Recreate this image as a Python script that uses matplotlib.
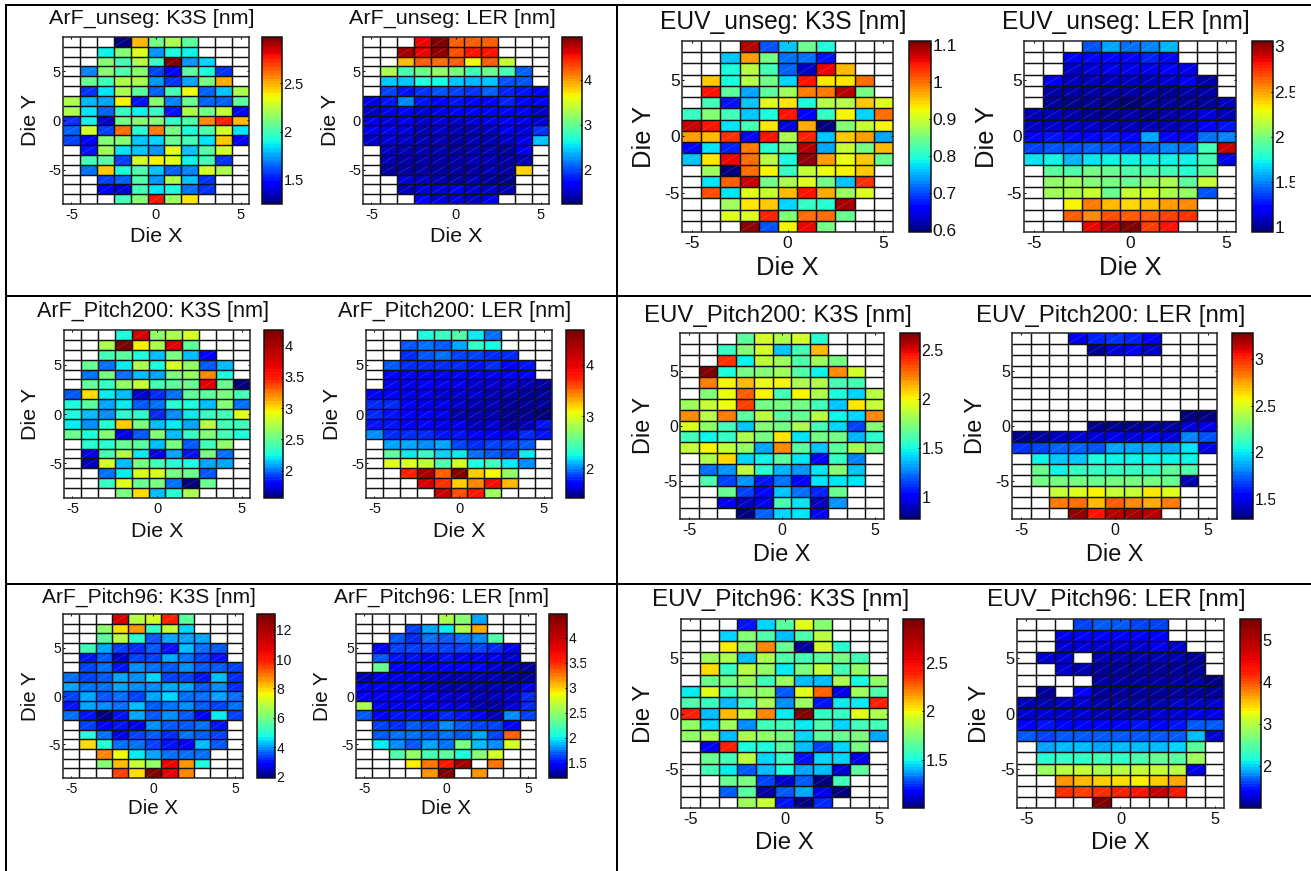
import numpy as np
import matplotlib
matplotlib.use('Agg')
import matplotlib.pyplot as plt
from matplotlib.collections import LineCollection
from matplotlib.colors import ListedColormap
from matplotlib.lines import Line2D
from matplotlib.transforms import Bbox

plt.rcParams['font.family'] = ['Liberation Sans', 'DejaVu Sans']

n = np.nan
die_x = [-5, -4, -3, -2, -1, 0, 1, 2, 3, 4, 5]
die_y = [8, 7, 6, 5, 4, 3, 2, 1, 0, -1, -2, -3, -4, -5, -6, -7, -8]

arf_unseg_k3s = [
 [n,n,n,1.25,2.47,2.1,2.2,2.05,n,n,n],
 [n,n,1.88,2.12,2.33,1.72,1.9,1.88,n,n,n],
 [n,n,2.12,2.0,2.25,1.97,2.98,1.72,1.82,n,n],
 [n,1.7,2.12,2.03,2.13,1.6,1.45,2.05,1.9,1.55,n],
 [n,2.07,2.0,2.22,2.2,1.72,1.55,1.75,2.1,2.5,n],
 [n,1.55,1.87,2.2,2.05,1.65,1.98,2.35,1.65,1.8,2.2],
 [2.22,1.78,1.75,2.37,1.5,2.12,1.7,2.07,1.65,1.65,2.05],
 [2.2,1.85,1.65,1.97,1.88,1.97,1.52,2.22,2.1,2.27,1.45],
 [1.55,1.88,1.38,2.1,2.13,2.13,1.97,2.03,2.55,2.75,2.47],
 [1.65,2.3,1.6,2.62,1.95,2.6,2.1,1.92,2.03,2.28,1.85],
 [1.6,1.45,2.12,2.12,1.8,1.82,2.07,2.0,1.85,2.45,1.45],
 [n,1.5,2.18,1.85,1.8,1.72,2.33,1.8,2.03,2.3,n],
 [n,1.98,2.05,1.58,2.3,2.37,2.33,1.88,1.98,1.55,n],
 [n,1.68,2.45,1.9,2.03,1.8,1.65,1.7,2.28,2.2,n],
 [n,n,1.58,1.63,2.02,1.72,2.22,1.8,1.55,n,n],
 [n,n,1.45,1.4,1.98,1.85,1.92,1.68,1.55,n,n],
 [n,n,n,1.98,2.12,2.78,2.17,2.4,n,n,n]]

arf_unseg_ler = [
 [n,n,n,4.55,4.95,4.25,4.2,4.25,n,n,n],
 [n,n,4.8,4.6,4.85,4.3,4.5,4.5,n,n,n],
 [n,n,3.9,4.2,4.15,4.2,3.65,4.2,3.4,n,n],
 [n,3.3,2.8,3.0,3.2,3.05,2.75,3.0,2.8,2.1,n],
 [n,2.45,2.4,2.7,2.65,2.4,2.35,2.4,2.0,2.0,n],
 [n,1.95,1.8,1.9,2.0,1.95,1.9,2.05,1.85,1.8,1.65],
 [1.6,1.8,2.2,1.8,1.75,1.8,1.75,1.7,1.85,1.75,1.65],
 [1.5,1.6,1.7,1.55,1.6,1.65,1.65,1.65,1.75,1.65,1.5],
 [1.6,1.55,1.6,1.5,1.55,1.5,1.55,1.6,1.65,1.6,1.55],
 [1.6,1.6,1.55,1.45,1.5,1.45,1.45,1.5,1.6,1.55,1.9],
 [1.5,1.55,1.5,1.45,1.45,1.4,1.45,1.45,1.5,1.6,2.45],
 [n,1.5,1.45,1.45,1.45,1.4,1.45,1.45,1.4,1.6,n],
 [n,1.45,1.4,1.4,1.4,1.4,1.45,1.45,1.4,1.45,n],
 [n,1.4,1.35,1.35,1.4,1.4,1.4,1.45,1.35,3.75,n],
 [n,n,1.55,1.5,1.45,1.4,1.45,1.4,1.33,n,n],
 [n,n,1.45,1.55,1.55,1.6,1.5,1.5,1.45,n,n],
 [n,n,n,1.75,1.55,1.55,1.5,1.6,n,n,n]]

euv_unseg_k3s = [
 [n,n,n,1.08,.70,.76,.84,.79,n,n,n],
 [n,n,.76,.98,.85,.72,.72,.67,n,n,n],
 [n,n,.79,.89,.82,.71,.63,1.06,.96,n,n],
 [n,.95,.79,.89,.85,.77,1.05,.94,.94,1.0,n],
 [n,1.05,.83,.74,.83,.87,.99,.99,1.08,.85,n],
 [n,.82,.67,.76,.91,.94,.79,.89,.89,.95,.91],
 [.81,.86,.82,.76,.79,1.05,.66,.81,.93,.77,1.0],
 [1.07,1.05,.78,.82,.94,.64,.97,.60,.86,.90,.93],
 [.98,.96,1.03,.66,1.05,.88,1.04,.76,.95,.98,.74],
 [.66,.78,.68,.99,.80,.85,1.08,.74,.90,.85,.96],
 [.76,.94,1.06,1.0,.89,.79,1.1,.98,.92,.95,.84],
 [n,.87,.60,1.0,.93,.81,.90,.92,.93,.95,n],
 [n,.78,1.01,1.07,.85,.88,.91,.85,.76,1.03,n],
 [n,1.02,.78,.91,.90,.96,1.05,.97,.87,.91,n],
 [n,n,.87,.94,.95,.77,.81,.80,1.09,n,n],
 [n,n,.91,.91,1.04,.86,1.0,1.0,.84,n,n],
 [n,n,n,1.1,.70,.93,1.06,.85,n,n,n]]

euv_unseg_ler = [
 [n,n,n,1.4,1.55,1.45,1.5,1.6,n,n,n],
 [n,n,1.2,1.22,1.22,1.22,1.3,1.24,n,n,n],
 [n,n,1.1,1.13,1.15,1.16,1.15,1.19,1.15,n,n],
 [n,1.15,1.08,1.08,1.07,1.05,1.07,1.1,1.15,1.03,n],
 [n,1.03,1.03,1.03,1.03,1.03,1.03,1.0,1.03,1.03,n],
 [n,1.03,1.0,1.03,1.0,.98,1.03,1.03,1.03,1.03,1.06],
 [1.05,1.05,1.03,1.0,1.0,1.03,1.0,1.03,1.06,1.13,1.08],
 [1.1,1.1,1.1,1.09,1.08,1.08,1.08,1.08,1.1,1.19,1.27],
 [1.22,1.27,1.22,1.22,1.27,1.22,1.55,1.22,1.22,1.45,1.5],
 [1.37,1.4,1.4,1.42,1.4,1.34,1.44,1.5,1.45,1.85,2.9],
 [1.68,1.72,1.6,1.7,1.72,1.72,1.74,1.72,1.72,1.85,1.17],
 [n,1.93,1.9,1.98,1.95,1.9,1.88,1.85,1.8,1.92,n],
 [n,2.07,2.1,2.02,2.0,1.95,2.07,2.12,1.92,2.2,n],
 [n,2.1,2.13,2.2,1.95,2.18,2.22,2.12,2.05,1.38,n],
 [n,n,2.33,2.58,2.45,2.38,2.42,2.5,2.55,n,n],
 [n,n,2.65,2.55,2.68,2.66,2.65,2.72,2.75,n,n],
 [n,n,n,2.85,2.95,3.06,2.7,2.8,n,n,n]]

arf_p200_k3s = [
 [n,n,n,2.25,3.75,2.65,2.7,2.85,n,n,n],
 [n,n,2.7,4.24,2.95,2.7,3.7,2.45,n,n,n],
 [n,n,2.4,2.45,2.25,2.15,2.55,2.12,1.8,n,n],
 [n,2.5,2.0,2.2,2.7,2.25,2.85,2.65,1.95,2.15,n],
 [n,2.0,2.55,2.0,2.12,2.1,2.55,2.65,3.2,2.25,n],
 [n,2.5,2.35,2.65,2.8,2.4,2.45,2.5,3.7,2.5,1.58],
 [1.98,3.0,2.2,2.12,1.7,1.9,2.0,2.45,2.45,2.55,2.38],
 [2.25,2.45,2.08,2.2,1.95,2.0,2.3,2.25,2.15,2.6,2.0],
 [2.25,2.12,2.05,2.3,2.3,1.9,2.05,2.2,2.35,2.4,2.9],
 [2.2,2.05,2.3,3.05,2.55,2.15,2.2,2.1,2.75,2.4,2.38],
 [2.5,2.27,2.6,1.75,1.95,2.6,2.15,2.35,2.6,2.4,2.25],
 [n,2.3,2.3,2.5,2.45,2.12,2.55,1.95,2.4,2.65,n],
 [n,1.75,2.4,2.7,2.2,1.75,2.1,1.85,2.55,2.0,n],
 [n,1.68,2.85,2.15,2.55,2.4,2.3,2.25,2.1,2.1,n],
 [n,n,2.0,2.2,2.85,2.85,2.55,2.5,1.95,n,n],
 [n,n,2.35,2.9,2.5,2.55,2.0,1.6,2.5,n,n],
 [n,n,n,2.55,3.0,2.15,2.3,2.7,n,n,n]]

arf_p200_ler = [
 [n,n,n,2.25,2.38,2.45,2.2,1.95,n,n,n],
 [n,n,1.9,1.95,1.9,2.05,2.35,2.25,n,n,n],
 [n,n,1.82,1.9,1.95,1.85,1.87,1.82,1.82,n,n],
 [n,1.88,1.79,1.79,1.79,1.79,1.77,1.79,1.7,1.74,n],
 [n,1.7,1.68,1.68,1.68,1.7,1.7,1.68,1.68,1.7,n],
 [n,1.7,1.66,1.68,1.66,1.66,1.62,1.62,1.62,1.54,1.5],
 [1.68,1.7,1.66,1.64,1.62,1.6,1.58,1.57,1.54,1.52,1.5],
 [1.78,1.78,1.7,1.66,1.63,1.58,1.55,1.54,1.52,1.5,1.48],
 [1.8,1.76,1.7,1.68,1.63,1.55,1.55,1.54,1.52,1.5,1.47],
 [1.76,1.76,1.68,1.68,1.66,1.66,1.56,1.6,1.52,1.56,1.76],
 [2.0,1.8,1.8,1.78,1.73,1.73,1.68,1.68,1.66,1.78,1.75],
 [n,2.05,2.08,1.98,2.03,1.85,1.82,1.85,1.85,1.9,n],
 [n,2.5,2.2,2.35,2.15,2.2,1.95,1.9,1.85,2.2,n],
 [n,3.0,3.0,2.9,2.45,2.95,2.25,2.4,2.2,1.98,n],
 [n,n,3.75,4.4,3.55,4.67,3.2,3.05,2.7,n,n],
 [n,n,n,4.1,3.7,3.2,3.45,3.9,3.25,n,n],
 [n,n,n,n,4.2,3.6,3.8,2.75,n,n,n]]

euv_p200_k3s = [
 [n,n,n,1.65,1.92,1.83,1.93,1.52,n,n,n],
 [n,n,1.55,1.75,1.92,1.38,1.6,2.12,n,n,n],
 [n,n,2.4,1.48,1.85,1.8,1.62,1.8,1.72,n,n],
 [n,2.67,1.5,1.72,1.73,1.8,1.62,1.47,2.2,1.93,n],
 [n,2.25,2.02,2.12,1.97,2.0,1.82,1.82,1.6,1.58,n],
 [n,1.75,1.97,2.3,2.0,1.58,2.0,1.82,1.5,1.42,1.85],
 [1.8,1.88,1.97,2.35,1.72,1.72,1.72,1.6,1.4,2.03,1.9],
 [2.2,1.85,2.25,1.65,1.85,1.65,1.68,1.85,1.48,1.42,2.2],
 [1.95,1.78,1.58,1.38,1.75,1.7,1.82,1.6,1.42,1.15,1.75],
 [1.58,1.47,1.55,1.82,1.7,2.03,1.45,1.7,1.72,1.35,1.52],
 [1.9,2.02,1.9,1.78,1.32,2.2,1.65,1.4,1.65,1.83,1.72],
 [n,1.82,2.05,1.42,1.48,1.65,1.43,1.02,1.55,1.27,n],
 [n,1.25,1.3,1.85,1.52,1.35,1.3,1.45,1.75,1.38,n],
 [n,1.62,1.15,1.3,1.05,1.25,1.0,1.45,1.45,1.45,n],
 [n,n,1.68,1.15,1.02,1.38,1.25,1.1,1.68,n,n],
 [n,n,.98,.92,.98,1.6,1.45,.9,1.3,n,n],
 [n,n,n,.78,1.22,1.42,1.45,1.0,n,n,n]]

euv_p200_ler = [
 [n,n,n,1.48,1.62,1.65,1.6,1.5,n,n,n],
 [n,n,n,n,1.32,1.45,1.5,1.42,n,n,n],
 [n,n,n,n,n,n,n,n,n,n,n],
 [n,n,n,n,n,n,n,n,n,n,n],
 [n,n,n,n,n,n,n,n,n,n,n],
 [n,n,n,n,n,n,n,n,n,n,n],
 [n,n,n,n,n,n,n,n,n,n,n],
 [n,n,n,n,n,n,n,n,n,1.3,1.3],
 [n,n,n,n,1.32,1.33,1.32,1.35,1.35,1.45,1.48],
 [1.33,1.35,1.42,1.44,1.44,1.47,1.45,1.5,1.45,1.8,1.7],
 [1.65,1.68,1.72,1.72,1.7,1.85,1.85,1.85,1.85,1.98,1.48],
 [n,2.0,1.93,1.93,2.05,2.03,2.0,2.0,2.03,2.03,n],
 [n,2.22,2.03,2.1,2.1,2.1,2.1,2.1,2.2,2.18,n],
 [n,2.25,2.25,2.25,2.22,2.28,2.25,2.28,2.22,1.4,n],
 [n,n,2.45,2.5,2.57,2.45,2.45,2.62,2.52,n,n],
 [n,n,2.82,2.85,2.7,2.88,2.78,2.72,2.82,n,n],
 [n,n,n,3.22,3.05,3.16,3.2,3.18,n,n,n]]

arf_p96_k3s = [
 [n,n,n,11.0,6.9,7.3,9.9,5.6,n,n,n],
 [n,n,6.3,8.0,8.6,5.2,7.0,4.5,n,n,n],
 [n,n,5.6,6.8,5.0,3.6,4.0,4.1,4.0,n,n],
 [n,5.2,4.0,3.4,3.2,3.5,3.1,4.2,3.8,3.6,n],
 [n,3.1,3.6,2.5,3.3,3.4,4.1,3.7,3.3,3.1,n],
 [n,3.4,3.8,3.0,3.9,3.7,3.6,3.9,3.5,3.6,3.4],
 [3.7,3.4,3.5,4.0,3.9,4.5,3.4,3.3,3.0,4.2,3.2],
 [4.0,3.8,3.7,4.0,3.9,3.9,4.0,4.0,3.6,3.9,3.2],
 [3.3,4.0,3.5,3.8,3.4,4.0,4.5,3.7,3.8,4.0,3.7],
 [3.1,4.0,3.9,3.7,4.2,3.5,3.7,3.9,3.6,3.3,3.8],
 [3.7,3.0,2.0,3.0,4.0,3.5,3.9,3.5,2.9,4.6,3.4],
 [n,3.3,2.9,3.0,2.7,3.9,3.5,3.6,3.7,3.0,n],
 [n,5.0,3.7,2.7,3.3,3.5,3.2,3.7,3.6,3.4,n],
 [n,7.9,4.9,3.7,3.7,3.4,3.0,2.8,4.2,3.6,n],
 [n,n,8.8,7.5,4.6,4.1,3.8,3.7,3.8,n,n],
 [n,n,6.2,8.3,7.1,6.3,10.5,8.6,4.8,n,n],
 [n,n,n,9.5,7.9,13.07,10.8,8.8,n,n,n]]

arf_p96_ler = [
 [n,n,n,n,n,2.6,2.45,1.85,n,n,n],
 [n,n,n,1.65,1.85,2.0,2.6,3.1,n,n,n],
 [n,n,1.68,1.6,1.72,1.68,1.72,1.8,2.25,n,n],
 [n,1.5,1.65,1.63,1.65,1.63,1.65,1.63,1.6,1.5,n],
 [n,1.68,1.55,1.54,1.5,1.54,1.5,1.5,1.48,1.37,n],
 [n,2.35,1.5,1.5,1.48,1.48,1.46,1.46,1.4,1.35,1.3],
 [1.35,1.44,1.44,1.41,1.37,1.35,1.33,1.33,1.33,1.3,1.27],
 [1.46,1.46,1.44,1.41,1.37,1.35,1.35,1.31,1.31,1.35,1.5],
 [1.5,1.48,1.46,1.44,1.44,1.37,1.37,1.31,1.33,1.37,1.58],
 [2.6,1.48,1.48,1.48,1.46,1.44,1.41,1.35,1.28,1.37,1.58],
 [1.68,1.48,1.55,1.54,1.48,1.6,1.55,1.48,1.35,1.8,1.65],
 [n,1.65,1.6,1.68,1.65,1.8,1.68,1.65,1.65,1.5,n],
 [n,1.7,1.72,1.72,1.68,1.72,1.7,1.82,1.65,3.3,n],
 [n,2.0,1.77,1.68,1.85,1.74,2.4,1.9,1.77,2.75,n],
 [n,n,2.25,2.5,2.2,2.3,2.05,2.45,2.75,n,n],
 [n,n,n,2.9,3.25,3.6,4.2,n,3.25,n,n],
 [n,n,n,n,3.15,4.45,n,3.15,n,n,n]]

euv_p96_k3s = [
 [n,n,n,1.2,1.45,1.65,1.97,1.75,n,n,n],
 [n,n,1.45,1.75,1.62,1.4,1.62,1.88,n,n,n],
 [n,n,2.03,1.78,2.2,1.7,1.05,1.92,1.52,n,n],
 [n,1.82,1.85,1.42,1.85,1.62,1.6,1.65,1.72,1.6,n],
 [n,2.05,1.55,1.88,1.78,1.48,1.72,1.9,1.58,1.78,n],
 [n,1.68,1.72,1.78,1.58,1.82,1.42,1.4,1.85,1.5,1.78],
 [1.48,1.97,1.55,1.78,1.78,1.3,1.97,2.25,1.15,1.82,1.62],
 [1.62,1.55,1.42,1.6,1.85,1.35,1.82,1.2,1.48,1.48,2.4],
 [2.4,1.42,2.1,1.88,2.2,1.47,2.95,1.55,1.55,1.97,1.85],
 [1.78,1.45,1.82,1.35,1.6,1.6,1.47,1.62,1.45,1.6,1.58],
 [1.78,1.85,1.4,1.85,1.78,1.72,1.45,1.65,1.7,1.72,1.38],
 [n,1.18,2.4,1.5,1.5,1.65,1.4,1.25,1.45,1.72,n],
 [n,1.68,1.6,1.88,1.45,1.55,1.2,1.45,1.45,1.15,n],
 [n,1.6,1.48,1.28,1.4,1.5,1.38,1.4,1.12,1.65,n],
 [n,n,1.68,1.72,1.25,1.1,1.28,1.0,1.58,n,n],
 [n,n,1.28,1.65,1.05,1.28,1.38,1.15,1.03,n,n],
 [n,n,n,1.82,1.9,1.2,1.02,1.22,n,n,n]]

euv_p96_ler = [
 [n,n,n,1.6,1.7,1.65,1.62,1.6,n,n,n],
 [n,n,1.33,1.38,1.42,1.38,1.38,1.38,n,n,n],
 [n,n,1.25,1.28,1.28,1.28,1.28,1.3,1.28,n,n],
 [n,1.28,1.28,n,1.18,1.18,1.15,1.2,1.15,1.12,n],
 [n,n,1.28,1.2,1.12,1.12,1.1,1.12,1.12,1.1,n],
 [n,n,n,n,1.1,1.1,1.09,1.1,1.1,1.1,1.07],
 [n,1.12,n,1.38,1.1,1.1,1.09,1.1,1.1,1.12,1.12],
 [1.2,1.2,1.24,1.22,1.2,1.15,1.17,1.18,1.22,1.26,1.28],
 [1.28,1.22,1.22,1.22,1.2,1.17,1.2,1.24,1.24,1.32,1.35],
 [1.42,1.44,1.42,1.42,1.42,1.42,1.45,1.42,1.45,1.68,1.68],
 [1.65,1.6,1.65,1.65,1.68,1.65,1.68,1.68,1.68,1.98,1.28],
 [n,1.88,1.92,1.92,1.88,1.97,1.97,1.92,2.02,2.5,n],
 [n,2.25,2.3,2.3,2.35,2.3,2.45,2.55,2.5,2.85,n],
 [n,2.85,3.0,3.05,2.95,3.0,3.05,3.1,3.0,1.33,n],
 [n,n,3.7,3.6,3.5,3.45,3.35,3.5,3.65,n,n],
 [n,n,4.1,4.05,4.1,4.2,4.35,4.8,4.3,n,n],
 [n,n,n,n,5.5,n,n,n,n,n,n]]

# ---------- layout (pixels in the 1311x871 picture) ----------
W, H = 1311, 871
jet = plt.get_cmap('jet', 256)
cmap_std = ListedColormap(jet(np.linspace(0, 1, 64)))
cmap_str = ListedColormap(jet(np.interp(np.linspace(0, 1, 64),
                                        [0, .25, .5, .71, 1],
                                        [0, .375, .63, .875, 1])))

# title, data, vmin, vmax, cbar ticks, axes (l, t, r, b), cbar (l, r), title px,
# label px, title gap, xlabel gap, ylabel offset, cmap, tick label clip x
panels = [
 ('ArF_unseg: K3S [nm]', arf_unseg_k3s, 1.25, 2.98, [1.5, 2, 2.5], (63, 37, 249, 204), (262, 282), 21.5, 21.5, 13, 38, 32, cmap_std, None),
 ('ArF_unseg: LER [nm]', arf_unseg_ler, 1.23, 4.95, [2, 3, 4], (363, 37, 549, 204), (562, 582), 21.5, 21.5, 13, 38, 32, cmap_std, None),
 ('EUV_unseg: K3S [nm]', euv_unseg_k3s, 0.595, 1.11, [0.6, 0.7, 0.8, 0.9, 1, 1.1], (682, 41, 893, 232), (909, 931), 24.6, 25.5, 12, 43, 38, cmap_std, None),
 ('EUV_unseg: LER [nm]', euv_unseg_ler, 0.95, 3.06, [1, 1.5, 2, 2.5, 3], (1024, 41, 1236, 232), (1252, 1273), 24.6, 25.5, 12, 43, 37, cmap_std, 1295),
 ('ArF_Pitch200: K3S [nm]', arf_p200_k3s, 1.57, 4.24, [2, 2.5, 3, 3.5, 4], (64, 330, 250, 498), (264, 283), 21.7, 21.5, 13, 39, 33, cmap_str, None),
 ('ArF_Pitch200: LER [nm]', arf_p200_ler, 1.42, 4.67, [2, 3, 4], (366, 330, 552, 498), (566, 584), 21.7, 21.5, 13, 39, 34, cmap_str, None),
 ('EUV_Pitch200: K3S [nm]', euv_p200_k3s, 0.78, 2.67, [1, 1.5, 2, 2.5], (680, 333, 884, 519), (900, 920), 24, 23.5, 11, 42, 37, cmap_std, None),
 ('EUV_Pitch200: LER [nm]', euv_p200_ler, 1.28, 3.28, [1.5, 2, 2.5, 3], (1012, 333, 1217, 519), (1232, 1253), 24, 23.5, 11, 42, 36, cmap_std, 1275),
 ('ArF_Pitch96: K3S [nm]', arf_p96_k3s, 1.9, 13.07, [2, 4, 6, 8, 10, 12], (63, 614, 243, 778), (257, 275), 21, 20.5, 11, 36, 32, cmap_str, None),
 ('ArF_Pitch96: LER [nm]', arf_p96_ler, 1.2, 4.47, [1.5, 2, 2.5, 3, 3.5, 4], (356, 614, 536, 778), (549, 567), 21, 20.5, 11, 36, 33, cmap_str, 586),
 ('EUV_Pitch96: K3S [nm]', euv_p96_k3s, 1.0, 2.95, [1.5, 2, 2.5], (681, 619, 888, 808), (903, 924), 24.2, 24, 13, 41, 37, cmap_str, None),
 ('EUV_Pitch96: LER [nm]', euv_p96_ler, 1.0, 5.5, [2, 3, 4, 5], (1017, 619, 1224, 808), (1240, 1261), 24.2, 24, 13, 41, 37, cmap_str, None),
]

PX = 0.72  # points per pixel at dpi 100
fig = plt.figure(figsize=(W / 100, H / 100), dpi=100, facecolor='white')

def fmt(v):
    return f'{v:g}'

xe = np.arange(len(die_x) + 1) - 5.5
ye = 8.5 - np.arange(len(die_y) + 1)

for title, data, vmin, vmax, ticks, (l, t, r, b), (cl, cr), tfs, fs, tgap, xgap, yoff, cmap, clipx in panels:
    ax = fig.add_axes([l / W, 1 - b / H, (r - l) / W, (b - t) / H])
    arr = np.ma.masked_invalid(np.array(data, dtype=float))
    mesh = ax.pcolormesh(xe, ye, arr, cmap=cmap, vmin=vmin, vmax=vmax)
    ax.set_xlim(-5.5, 5.5)
    ax.set_ylim(-8.5, 8.5)

    # faint facet diagonal of every filled cell
    segs = [[(x - .5, y - .5), (x + .5, y + .5)]
            for i, y in enumerate(die_y) for j, x in enumerate(die_x)
            if not arr.mask[i, j]]
    ax.add_collection(LineCollection(segs, colors='white', linewidths=0.4, alpha=0.22, zorder=2))

    # cell grid
    ax.vlines(xe[1:-1], -8.5, 8.5, colors='#111111', linewidth=1.05, zorder=3)
    ax.hlines(ye[1:-1], -5.5, 5.5, colors='#111111', linewidth=1.05, zorder=3)

    tick_fs = fs * 0.68 * PX
    ax.set_xticks([-5, 0, 5], ['-5', '0', '5'])
    ax.set_yticks([-5, 0, 5], ['-5', '0', '5'])
    ax.tick_params(axis='x', direction='in', length=1.5, width=0.7, top=True,
                   labelsize=tick_fs, pad=3, labelcolor='#111111')
    ax.tick_params(axis='y', direction='in', length=1.5, width=0.7, right=True,
                   labelsize=tick_fs, pad=1.5, labelcolor='#111111')
    for s in ax.spines.values():
        s.set_linewidth(1.1)
        s.set_color('#222222')
        s.set_zorder(5)

    ax.set_title(title, fontsize=tfs * PX, pad=tgap * PX, color='#111111',
                 x=0.5 - 4 / (r - l))
    ax.set_xlabel('Die X', fontsize=fs * PX, va='baseline', color='#111111')
    ax.xaxis.set_label_coords(0.5, -xgap / (b - t))
    ax.set_ylabel('Die Y', fontsize=fs * PX, va='center', color='#111111')
    ax.yaxis.set_label_coords(-yoff / (r - l), 0.5)

    cax = fig.add_axes([cl / W, 1 - b / H, (cr - cl) / W, (b - t) / H])
    cb = fig.colorbar(mesh, cax=cax, ticks=ticks)
    cb.ax.set_yticklabels([fmt(v) for v in ticks])
    cb.ax.tick_params(direction='in', length=1.5, width=0.7, labelsize=tick_fs, pad=1, labelcolor='#111111')
    cb.outline.set_linewidth(1.1)
    cb.outline.set_edgecolor('#111111')
    if clipx is not None:
        box = Bbox([[cr, 0], [clipx, H]])
        for lab in cb.ax.get_yticklabels():
            lab.set_clip_box(box)
            lab.set_clip_on(True)

# table frame
def frame(x0, y0, x1, y1, lw=2.0):
    fig.add_artist(Line2D([x0 / W, x1 / W], [1 - y0 / H, 1 - y1 / H], color='black',
                          linewidth=lw * PX, solid_capstyle='butt'))

frame(5, 5, W, 5)
frame(5, 296.5, W, 296.5)
frame(5, 583.5, W, 583.5)
frame(5.5, 5, 5.5, H)
frame(616.5, 5, 616.5, H)

fig.savefig('out.png', dpi=100, facecolor='white')
